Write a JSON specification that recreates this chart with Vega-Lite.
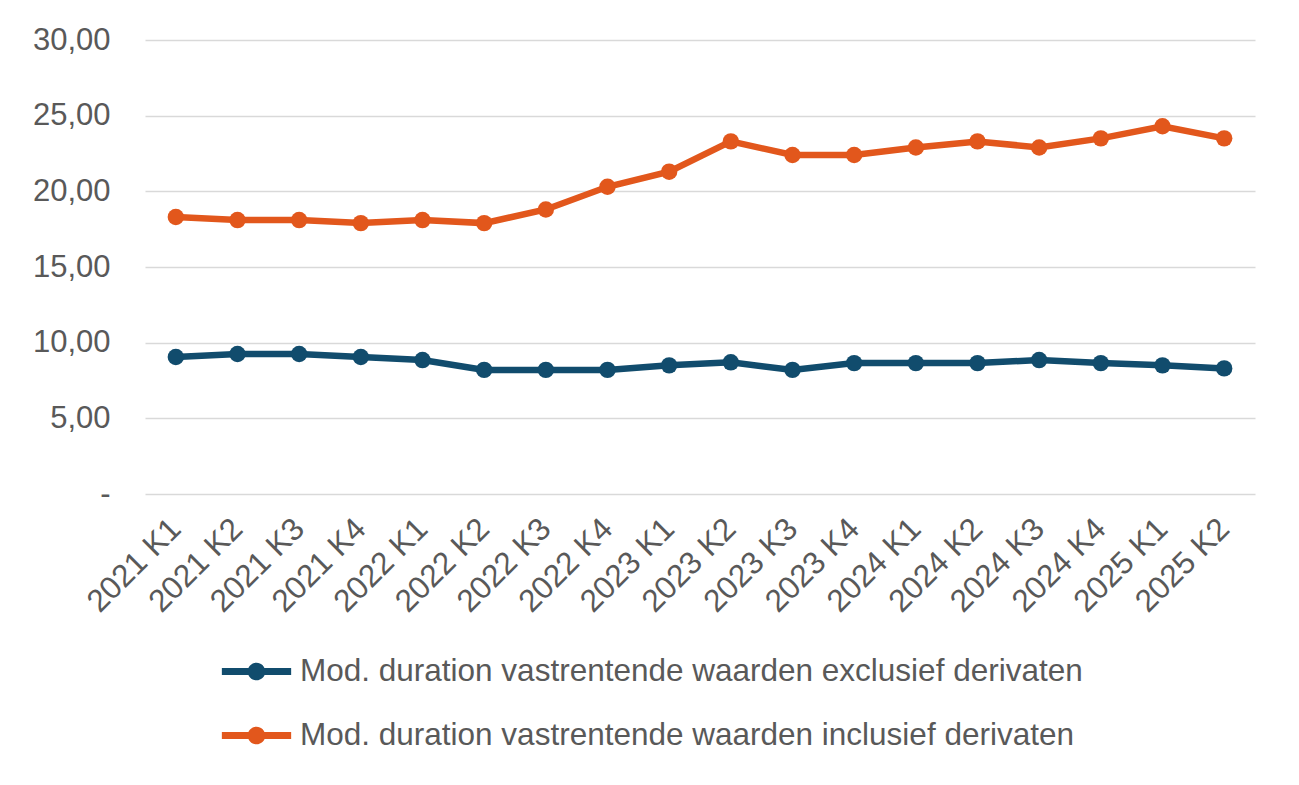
{
  "$schema": "https://vega.github.io/schema/vega-lite/v6.json",
  "width": 1110,
  "height": 454,
  "autosize": {"type": "none"},
  "padding": {"left": 145, "top": 40, "right": 44, "bottom": 291},
  "background": "white",
  "config": {
    "view": {"stroke": null},
    "font": "Liberation Sans"
  },
  "data": {
    "values": [
      {"q": "2021 K1", "s": "Mod. duration vastrentende waarden exclusief derivaten", "v": 9.05},
      {"q": "2021 K2", "s": "Mod. duration vastrentende waarden exclusief derivaten", "v": 9.25},
      {"q": "2021 K3", "s": "Mod. duration vastrentende waarden exclusief derivaten", "v": 9.25},
      {"q": "2021 K4", "s": "Mod. duration vastrentende waarden exclusief derivaten", "v": 9.05},
      {"q": "2022 K1", "s": "Mod. duration vastrentende waarden exclusief derivaten", "v": 8.85},
      {"q": "2022 K2", "s": "Mod. duration vastrentende waarden exclusief derivaten", "v": 8.2},
      {"q": "2022 K3", "s": "Mod. duration vastrentende waarden exclusief derivaten", "v": 8.2},
      {"q": "2022 K4", "s": "Mod. duration vastrentende waarden exclusief derivaten", "v": 8.2},
      {"q": "2023 K1", "s": "Mod. duration vastrentende waarden exclusief derivaten", "v": 8.5},
      {"q": "2023 K2", "s": "Mod. duration vastrentende waarden exclusief derivaten", "v": 8.7},
      {"q": "2023 K3", "s": "Mod. duration vastrentende waarden exclusief derivaten", "v": 8.2},
      {"q": "2023 K4", "s": "Mod. duration vastrentende waarden exclusief derivaten", "v": 8.65},
      {"q": "2024 K1", "s": "Mod. duration vastrentende waarden exclusief derivaten", "v": 8.65},
      {"q": "2024 K2", "s": "Mod. duration vastrentende waarden exclusief derivaten", "v": 8.65},
      {"q": "2024 K3", "s": "Mod. duration vastrentende waarden exclusief derivaten", "v": 8.85},
      {"q": "2024 K4", "s": "Mod. duration vastrentende waarden exclusief derivaten", "v": 8.65},
      {"q": "2025 K1", "s": "Mod. duration vastrentende waarden exclusief derivaten", "v": 8.5},
      {"q": "2025 K2", "s": "Mod. duration vastrentende waarden exclusief derivaten", "v": 8.3},
      {"q": "2021 K1", "s": "Mod. duration vastrentende waarden inclusief derivaten", "v": 18.3},
      {"q": "2021 K2", "s": "Mod. duration vastrentende waarden inclusief derivaten", "v": 18.1},
      {"q": "2021 K3", "s": "Mod. duration vastrentende waarden inclusief derivaten", "v": 18.1},
      {"q": "2021 K4", "s": "Mod. duration vastrentende waarden inclusief derivaten", "v": 17.9},
      {"q": "2022 K1", "s": "Mod. duration vastrentende waarden inclusief derivaten", "v": 18.1},
      {"q": "2022 K2", "s": "Mod. duration vastrentende waarden inclusief derivaten", "v": 17.9},
      {"q": "2022 K3", "s": "Mod. duration vastrentende waarden inclusief derivaten", "v": 18.8},
      {"q": "2022 K4", "s": "Mod. duration vastrentende waarden inclusief derivaten", "v": 20.3},
      {"q": "2023 K1", "s": "Mod. duration vastrentende waarden inclusief derivaten", "v": 21.3},
      {"q": "2023 K2", "s": "Mod. duration vastrentende waarden inclusief derivaten", "v": 23.3},
      {"q": "2023 K3", "s": "Mod. duration vastrentende waarden inclusief derivaten", "v": 22.4},
      {"q": "2023 K4", "s": "Mod. duration vastrentende waarden inclusief derivaten", "v": 22.4},
      {"q": "2024 K1", "s": "Mod. duration vastrentende waarden inclusief derivaten", "v": 22.9},
      {"q": "2024 K2", "s": "Mod. duration vastrentende waarden inclusief derivaten", "v": 23.3},
      {"q": "2024 K3", "s": "Mod. duration vastrentende waarden inclusief derivaten", "v": 22.9},
      {"q": "2024 K4", "s": "Mod. duration vastrentende waarden inclusief derivaten", "v": 23.5},
      {"q": "2025 K1", "s": "Mod. duration vastrentende waarden inclusief derivaten", "v": 24.3},
      {"q": "2025 K2", "s": "Mod. duration vastrentende waarden inclusief derivaten", "v": 23.5}
    ]
  },
  "encoding": {
    "x": {
      "field": "q",
      "type": "ordinal",
      "sort": null,
      "scale": {"type": "point", "padding": 0.5},
      "axis": {
        "title": null,
        "domain": false,
        "ticks": false,
        "grid": false,
        "labelAngle": -45,
        "labelAlign": "right",
        "labelBaseline": "middle",
        "labelFontSize": 31.5,
        "labelColor": "#595959",
        "labelPadding": 30,
        "labelDx": 4
      }
    },
    "y": {
      "field": "v",
      "type": "quantitative",
      "scale": {"domain": [0, 30], "nice": false},
      "axis": {
        "title": null,
        "values": [0, 5, 10, 15, 20, 25, 30],
        "labelExpr": "datum.value == 0 ? '-' : replace(format(datum.value, '.2f'), '.', ',')",
        "domain": false,
        "ticks": false,
        "gridColor": "#D9D9D9",
        "gridWidth": 1.5,
        "labelFontSize": 31,
        "labelColor": "#595959",
        "labelPadding": 35
      }
    },
    "color": {
      "field": "s",
      "type": "nominal",
      "scale": {
        "domain": ["Mod. duration vastrentende waarden exclusief derivaten", "Mod. duration vastrentende waarden inclusief derivaten"],
        "range": ["#114C6D", "#E2571C"]
      },
      "legend": {
        "title": null,
        "orient": "none",
        "legendX": 80,
        "legendY": 600,
        "direction": "vertical",
        "labelFontSize": 31.5,
        "labelColor": "#595959",
        "labelLimit": 1000,
        "labelOffset": 12,
        "rowPadding": 17,
        "symbolType": "M-1.1,-0.11 H1.1 V0.11 H-1.1 Z M0.28,0 A0.28,0.28 0 1,1 -0.28,0 A0.28,0.28 0 1,1 0.28,0 Z",
        "symbolSize": 3969,
        "symbolStrokeWidth": 0,
        "encode": {
          "symbols": {
            "update": {
              "fill": {"signal": "scale('color', datum.value)"},
              "fillOpacity": {"value": 1},
              "strokeWidth": {"value": 0}
            }
          }
        }
      }
    }
  },
  "layer": [
    {"mark": {"type": "line", "strokeWidth": 6.5}},
    {"mark": {"type": "point", "filled": true, "size": 270, "opacity": 1}}
  ]
}
